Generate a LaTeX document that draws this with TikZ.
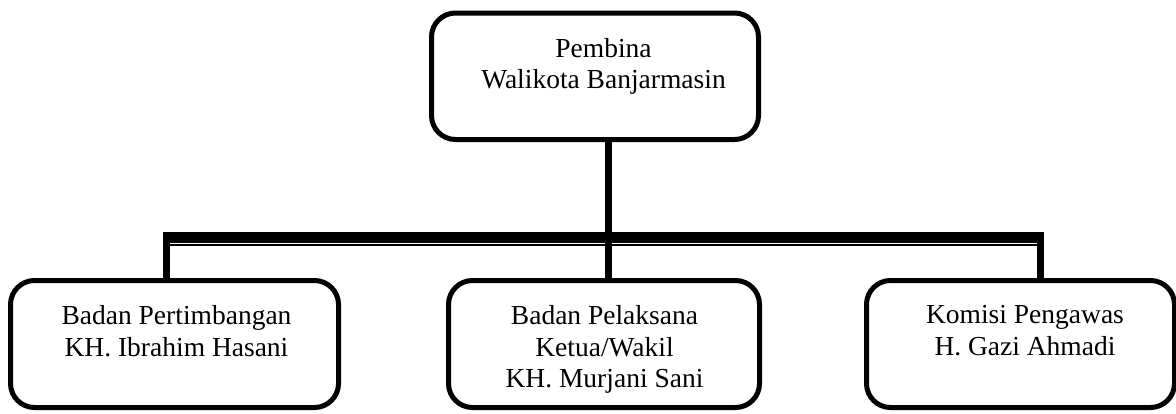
\documentclass[tikz,border=0pt]{standalone}
\usepackage{fontspec}
\setmainfont{Liberation Serif}
\begin{document}
\begin{tikzpicture}[x=1pt,y=1pt,
  box/.style={draw, line width=5pt, rounded corners=24pt, minimum width=#1, inner sep=0pt},
  lbl/.style={align=center, inner sep=0pt, anchor=north, font=\fontsize{27.5}{31.6}\selectfont},
  bar/.style={line width=11pt, line cap=butt},
  thin/.style={line width=1.5pt},
  stem/.style={line width=7pt, line cap=butt}]
\useasboundingbox (0,0) rectangle (1176,-413);
% boxes
\node[box=327pt, minimum height=126.5pt] (top) at (595,-76.25) {};
\node[box=328pt, minimum height=127pt] (b1) at (174.5,-344) {};
\node[box=311pt, minimum height=127pt] (b2) at (604,-344) {};
\node[box=308pt, minimum height=127pt] (b3) at (1020.5,-344) {};
% labels
\node[lbl] (tt) at ([xshift=8.5pt,yshift=-27.5pt]top.north) {Pembina\\Walikota Banjarmasin};
\node[lbl] (t1) at ([xshift=2pt,yshift=-27.5pt]b1.north) {Badan Pertimbangan\\KH. Ibrahim Hasani};
\node[lbl] (t2) at ([xshift=0.5pt,yshift=-27.5pt]b2.north) {Badan Pelaksana\\Ketua/Wakil\\KH. Murjani Sani};
\node[lbl] (t3) at ([xshift=4.5pt,yshift=-27.5pt]b3.north) {Komisi Pengawas\\H. Gazi Ahmadi};
% connector coordinates
\coordinate (cl) at (163,-237.5);
\coordinate (cr) at (1043.5,-237.5);
\coordinate (vl) at (166.5,-237.5);
\coordinate (vr) at (1040,-237.5);
\coordinate (cm) at (608.5,-237.5);
\coordinate (tb) at (608.5,-139.5);
\coordinate (bm) at (608.5,-280.5);
\coordinate (bl) at (166.5,-283);
\coordinate (br) at (1040,-283);
\coordinate (il) at (170,-245);
\coordinate (ir) at (1036.5,-245);
\draw[bar] (cl) -- (cr);
\draw[stem] (vl) -- (bl);
\draw[stem] (vr) -- (br);
\draw[thin] (il) -- (ir);
\draw[stem] (tb) -- (cm);
\draw[stem] (cm) -- (bm);
\end{tikzpicture}
\end{document}
